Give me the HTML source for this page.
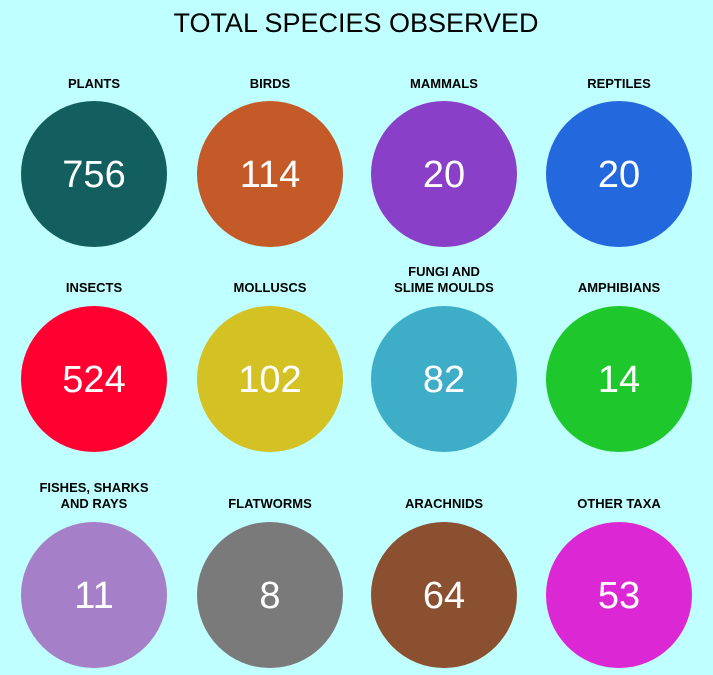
<!DOCTYPE html>
<html><head><meta charset="utf-8"><style>
html,body{margin:0;padding:0;background:#c0ffff;}
body{width:713px;height:670px;overflow:hidden;font-family:"Liberation Sans",Arial,sans-serif;}
</style></head><body>
<svg id="chart" width="713" height="670">
<rect width="713" height="670" fill="#c0ffff"/>
<text x="356" y="32" text-anchor="middle" font-size="27" fill="#000" font-family="Liberation Sans, sans-serif">TOTAL SPECIES OBSERVED</text>
</svg>
<script>
const categories=[["PLANTS"],["BIRDS"],["MAMMALS"],["REPTILES"],["INSECTS"],["MOLLUSCS"],["FUNGI AND","SLIME MOULDS"],["AMPHIBIANS"],["FISHES, SHARKS","AND RAYS"],["FLATWORMS"],["ARACHNIDS"],["OTHER TAXA"]];
const counts=[756,114,20,20,524,102,82,14,11,8,64,53];
const colors=["#135e5e","#c45a28","#8a3fc8","#2468de","#ff0030","#d4c225","#3eadc8","#1ec82c","#a580c8","#7a7a7a","#8a5030","#dc28d4"];
const svg=document.getElementById('chart');
const NS='http://www.w3.org/2000/svg';
const colX=[94,270,444,619];
const rowY=[174,379,595];
const labelY=[88,292,508];
const R=73;
categories.forEach((lab,i)=>{
  const cx=colX[i%4], cy=rowY[Math.floor(i/4)], ly=labelY[Math.floor(i/4)];
  const g=document.createElementNS(NS,'g');
  
  
  const c=document.createElementNS(NS,'circle');
  c.setAttribute('cx',cx);c.setAttribute('cy',cy);c.setAttribute('r',R);c.setAttribute('fill',colors[i]);
  
  
  g.appendChild(c);
  const t=document.createElementNS(NS,'text');
  t.setAttribute('x',cx);t.setAttribute('y',cy+13);t.setAttribute('text-anchor','middle');
  t.setAttribute('font-size','38');t.setAttribute('fill','#fff');
  t.textContent=counts[i];
  
  
  g.appendChild(t);
  lab.forEach((line,j)=>{
    const l=document.createElementNS(NS,'text');
    l.setAttribute('x',cx);l.setAttribute('y',ly-(lab.length-1-j)*16);l.setAttribute('text-anchor','middle');
    l.setAttribute('font-size','13');l.setAttribute('font-weight','bold');l.setAttribute('fill','#000');
    l.textContent=line;
    
    
    g.appendChild(l);
  });
  svg.appendChild(g);
});
</script>
</body></html>
